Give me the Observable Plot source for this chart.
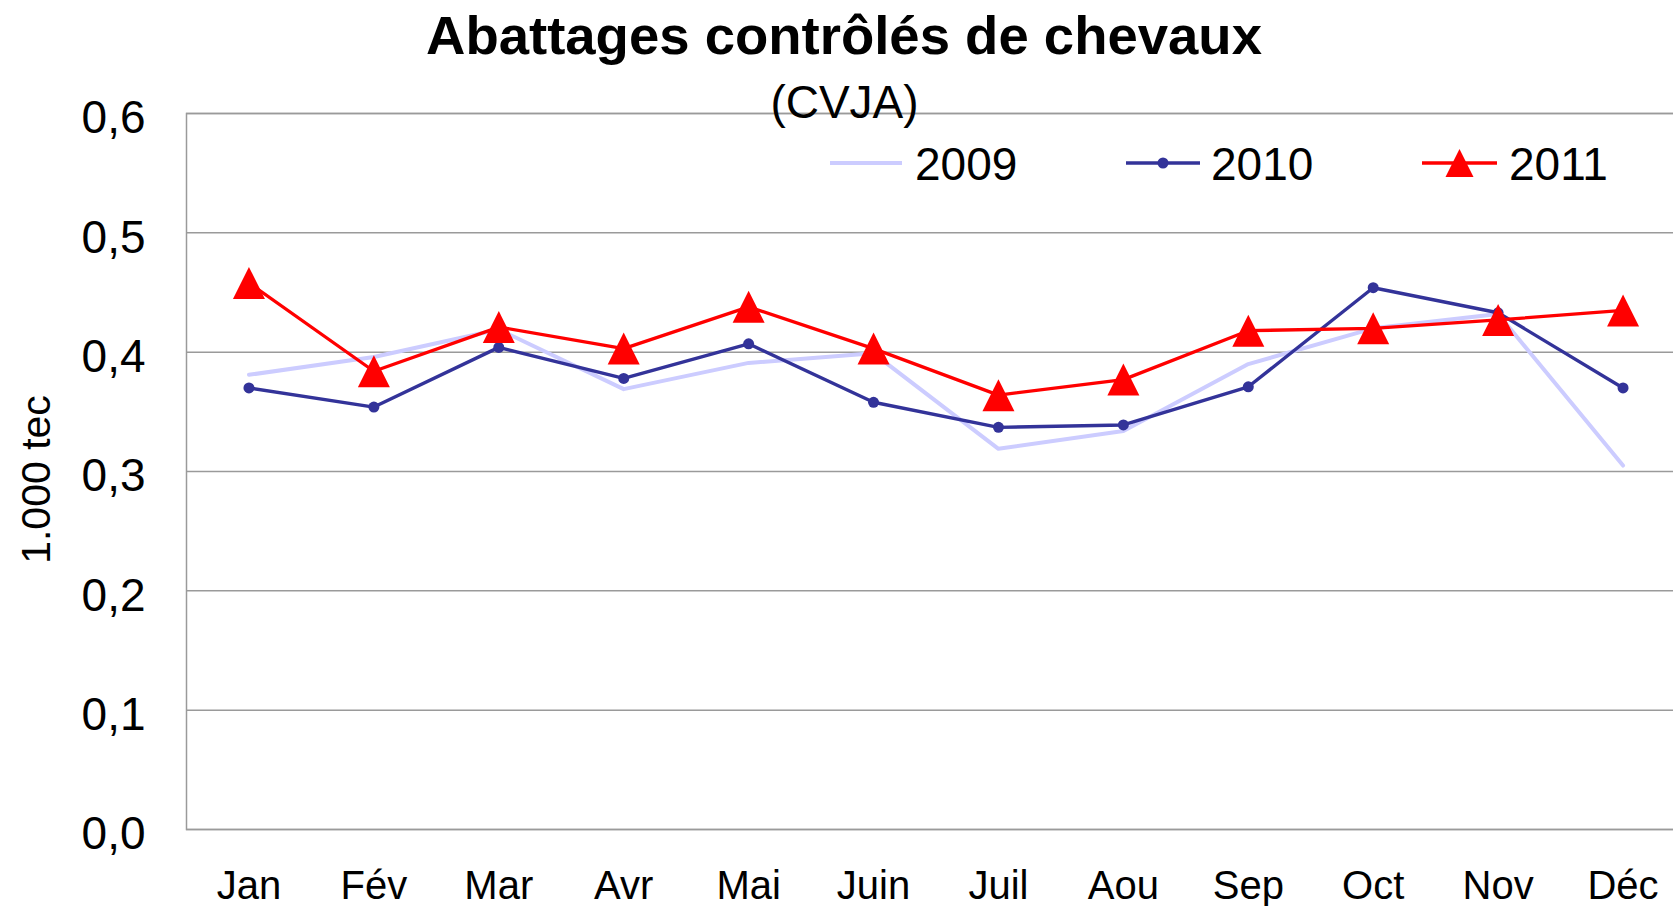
<!DOCTYPE html>
<html><head><meta charset="utf-8">
<script src="https://cdn.jsdelivr.net/npm/d3@7"></script>
<script src="https://cdn.jsdelivr.net/npm/@observablehq/plot@0.6"></script>
<style>
html,body{margin:0;padding:0;background:#fff;overflow:hidden;}
#chart svg{display:block;overflow:hidden;}
</style></head><body><div id="chart"></div>
<script>
const months = ["Jan","Fév","Mar","Avr","Mai","Juin","Juil","Aou","Sep","Oct","Nov","Déc"];
const seriesNames = ["2009","2010","2011"];
const v2009 = [0.381,0.396,0.419,0.369,0.391,0.399,0.319,0.334,0.390,0.420,0.432,0.305];
const v2010 = [0.370,0.354,0.404,0.378,0.407,0.358,0.337,0.339,0.371,0.454,0.433,0.370];
const v2011 = [0.458,0.384,0.421,0.403,0.438,0.403,0.364,0.377,0.418,0.420,0.427,0.435];
const yTicks = [0,0.1,0.2,0.3,0.4,0.5,0.6];
const title = "Abattages contrôlés de chevaux";
const subtitle = "(CVJA)";
const yLabel = "1.000 tec";

const colors = {"2009":"#ccccff","2010":"#333399","2011":"#ff0000"};
const rows = (vals, s) => months.map((m,i)=>({month:m, value:vals[i], series:s}));
const d2009 = rows(v2009, seriesNames[0]);
const d2010 = rows(v2010, seriesNames[1]);
const d2011 = rows(v2011, seriesNames[2]);

const tri = {draw(ctx, size){ const s = Math.sqrt(size/Math.PI); ctx.moveTo(0,-s); ctx.lineTo(s,s); ctx.lineTo(-s,s); ctx.closePath(); }};
const fmt = d => d.toFixed(1).replace(".", ",");
const grid = "#9a9a9a";

const plot = Plot.plot({
  width:1673, height:906,
  marginLeft:186, marginRight:-12, marginTop:113, marginBottom:77,
  style:{fontFamily:"'Liberation Sans', Arial, sans-serif", background:"#fff", color:"#000"},
  x:{type:"point", domain:months, padding:0.5, round:false},
  y:{domain:[0,0.6]},
  marks:[
    Plot.gridY(yTicks, {stroke:grid, strokeOpacity:1, strokeWidth:1.5}),
    Plot.frame({stroke:grid, strokeWidth:1.5}),
    Plot.axisY(yTicks, {tickSize:0, tickPadding:41, fontSize:46, tickFormat:fmt, label:null, dy:5}),
    Plot.axisX({tickSize:0, tickPadding:41, fontSize:40, label:null}),
    Plot.line(d2009, {x:"month", y:"value", stroke:colors["2009"], strokeWidth:4}),
    Plot.line(d2010, {x:"month", y:"value", stroke:colors["2010"], strokeWidth:3.4}),
    Plot.dot(d2010, {x:"month", y:"value", r:5.5, fill:colors["2010"], symbol:"circle"}),
    Plot.line(d2011, {x:"month", y:"value", stroke:colors["2011"], strokeWidth:3.3}),
    Plot.dot(d2011, {x:"month", y:"value", r:16, fill:colors["2011"], symbol:tri}),
    Plot.text([title], {text:d=>d, frameAnchor:"top-left", dx:657.5, dy:-60, lineAnchor:"bottom", textAnchor:"middle", fontSize:54.5, fontWeight:"bold", fill:"#000"}),
    Plot.text([subtitle], {text:d=>d, frameAnchor:"top-left", dx:658, dy:4, lineAnchor:"bottom", textAnchor:"middle", fontSize:46, fill:"#000"}),
    Plot.text([yLabel], {text:d=>d, frameAnchor:"left", dx:-150, dy:8, rotate:-90, lineAnchor:"middle", textAnchor:"middle", fontSize:41, fill:"#000"})
  ]
});
document.getElementById("chart").appendChild(plot);

// legend
const svg = d3.select(plot);
const lg = svg.append("g").attr("class","legend").attr("font-size",46).attr("fill","#000").attr("text-anchor","start");
const items = [
  {name:seriesNames[0], x1:830, x2:902, tx:915, sw:4, marker:null},
  {name:seriesNames[1], x1:1126, x2:1200, tx:1211, sw:3.4, marker:"dot"},
  {name:seriesNames[2], x1:1422, x2:1497, tx:1509, sw:3.3, marker:"tri"}
];
const ly = 163;
items.forEach(it => {
  lg.append("line").attr("x1",it.x1).attr("x2",it.x2).attr("y1",ly).attr("y2",ly)
    .attr("stroke",colors[it.name]).attr("stroke-width",it.sw);
  const cx = (it.x1+it.x2)/2;
  if (it.marker==="dot") lg.append("circle").attr("cx",cx).attr("cy",ly).attr("r",5.5).attr("fill",colors[it.name]);
  if (it.marker==="tri") lg.append("path").attr("d", d3.symbol(tri, Math.PI*14*14)()).attr("transform",`translate(${cx},${ly})`).attr("fill",colors[it.name]);
  lg.append("text").attr("x",it.tx).attr("y",180).attr("text-anchor","start").text(it.name);
});
</script></body></html>
